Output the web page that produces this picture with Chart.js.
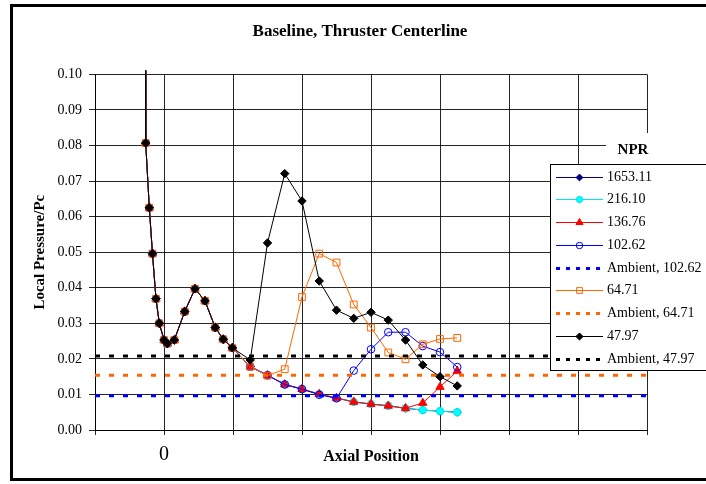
<!DOCTYPE html>
<html>
<head>
<meta charset="utf-8">
<script src="https://cdn.jsdelivr.net/npm/chart.js@4/dist/chart.umd.min.js"></script>
<style>
  html, body { margin: 0; padding: 0; background: #fff; }
  canvas { display: block; }
</style>
</head>
<body>
<canvas id="chart" width="706" height="484"></canvas>
<script>
// axial stations (one grid division = 1 unit, 0 = reference station)
const nearX = [-0.272, -0.265, -0.213, -0.167, -0.116, -0.068, 0.0, 0.048, 0.149, 0.300, 0.449, 0.594, 0.743, 0.859, 0.990]
const farX = [1.25, 1.5, 1.75, 2.0, 2.25, 2.5, 2.75, 3.0, 3.25, 3.5, 3.75, 4.0, 4.25]

// upstream part, the same for every NPR
const nearP = [0.1300, 0.0807, 0.0625, 0.0496, 0.0369, 0.0300, 0.0253, 0.0243, 0.0253, 0.0333, 0.0397, 0.0363, 0.0288, 0.0255, 0.0231]

// downstream part per NPR
const npr1653 = [0.0178, 0.0154, 0.0128, 0.0115, 0.0101, 0.0090, 0.0079, 0.0073, 0.0068, 0.0061, 0.0056, 0.0053, 0.0050]
const npr216 = [0.0178, 0.0154, 0.0128, 0.0115, 0.0101, 0.0090, 0.0079, 0.0073, 0.0068, 0.0061, 0.0056, 0.0053, 0.0050]
const npr137 = [0.0178, 0.0154, 0.0128, 0.0115, 0.0101, 0.0090, 0.0079, 0.0073, 0.0068, 0.0061, 0.0076, 0.0121, 0.0166]
const npr103 = [0.0178, 0.0154, 0.0128, 0.0115, 0.0099, 0.0089, 0.0167, 0.0227, 0.0275, 0.0275, 0.0236, 0.0219, 0.0177]
const npr65 = [0.0178, 0.0153, 0.0171, 0.0374, 0.0496, 0.0471, 0.0353, 0.0288, 0.0218, 0.0199, 0.0241, 0.0256, 0.0259]
const npr48 = [0.0197, 0.0526, 0.0721, 0.0644, 0.0419, 0.0337, 0.0314, 0.0331, 0.0309, 0.0253, 0.0183, 0.0150, 0.0124]

// ambient pressure levels
const ambientX = [-1, 7]
const ambient103 = 0.0096
const ambient65 = 0.0154
const ambient48 = 0.0208

const yTicks = [0, 0.01, 0.02, 0.03, 0.04, 0.05, 0.06, 0.07, 0.08, 0.09, 0.10]

Chart.defaults.font.family = '"Liberation Serif", "Times New Roman", serif'
Chart.defaults.color = '#000'

function curve(farVals) {
    const xs = nearX.concat(farX)
    const ys = nearP.concat(farVals)
    return xs.map((x, i) => ({ x: x, y: ys[i] }))
}

function flat(level) {
    return ambientX.map(x => ({ x: x, y: level }))
}

function series(label, data, color, style, radius, fill) {
    return {
        label: label,
        data: data,
        borderColor: color,
        borderWidth: 1,
        pointStyle: style,
        pointRadius: radius,
        pointBorderColor: color,
        pointBackgroundColor: fill,
        pointBorderWidth: 1,
        clip: 4
    }
}

function ambient(label, level, color) {
    return {
        label: label,
        data: flat(level),
        borderColor: color,
        borderWidth: 3,
        borderDash: [5, 9],
        pointRadius: 0,
        clip: 5
    }
}

const datasets = [
    series('1653.11', curve(npr1653), '#000080', 'rectRot', 4, '#000080'),
    series('216.10', curve(npr216), '#00E5EE', 'circle', 3.7, '#00FFFF'),
    series('136.76', curve(npr137), '#FF0000', 'triangle', 4.8, '#FF0000'),
    series('102.62', curve(npr103), '#0000FF', 'circle', 3.8, 'rgba(0,0,0,0)'),
    ambient('Ambient, 102.62', ambient103, '#0000FF'),
    series('64.71', curve(npr65), '#FF6600', 'rect', 4.8, 'rgba(0,0,0,0)'),
    ambient('Ambient, 64.71', ambient65, '#FF6600'),
    series('47.97', curve(npr48), '#000000', 'rectRot', 4.2, '#000000'),
    ambient('Ambient, 47.97', ambient48, '#000000')
]
// later series sit on top, as in the original
datasets.forEach((ds, i) => { ds.order = datasets.length - i })

const frame = {
    id: 'frame',
    beforeDraw(chart) {
        const ctx = chart.ctx
        ctx.save()
        ctx.fillStyle = '#fff'
        ctx.fillRect(0, 0, chart.width, chart.height)
        ctx.restore()
    },
    afterDraw(chart) {
        const ctx = chart.ctx
        ctx.save()
        // NPR caption
        ctx.fillStyle = '#fff'
        ctx.fillRect(606, 133, 110, 31)
        ctx.fillStyle = '#000'
        ctx.font = 'bold 15px "Liberation Serif", serif'
        ctx.textAlign = 'center'
        ctx.textBaseline = 'middle'
        ctx.fillText('NPR', 633, 150)

        // legend box
        ctx.fillStyle = '#fff'
        ctx.fillRect(550, 164, 170, 207)
        ctx.strokeStyle = '#000'
        ctx.lineWidth = 1
        ctx.strokeRect(550.5, 164.5, 170, 206)

        ctx.font = '14px "Liberation Serif", serif'
        ctx.textAlign = 'left'
        chart.data.datasets.forEach((ds, i) => {
            const y = Math.round(176.7 + 22.75 * i) + 0.5
            ctx.strokeStyle = ds.borderColor
            ctx.lineWidth = ds.borderWidth
            ctx.setLineDash(ds.borderDash ? [4, 6] : [])
            ctx.beginPath()
            ctx.moveTo(556, y)
            ctx.lineTo(603, y)
            ctx.stroke()
            ctx.setLineDash([])
            if (ds.pointRadius > 0) {
                ctx.fillStyle = ds.pointBackgroundColor
                ctx.strokeStyle = ds.pointBorderColor
                ctx.lineWidth = 1
                Chart.helpers.drawPoint(ctx, {
                    pointStyle: ds.pointStyle,
                    radius: ds.pointRadius * 0.85,
                    rotation: 0,
                    borderWidth: 1
                }, 579.5, y)
            }
            ctx.fillStyle = '#000'
            ctx.fillText(ds.label, 607, y)
        })

        // outer frame
        ctx.strokeStyle = '#000'
        ctx.lineWidth = 3
        ctx.strokeRect(11.5, 5.5, 710, 474)
        ctx.restore()
    }
}

new Chart(document.getElementById('chart'), {
    type: 'line',
    data: { datasets: datasets },
    options: {
        responsive: false,
        animation: false,
        layout: { padding: { left: 14, right: 0, top: 0, bottom: 14 } },
        plugins: {
            legend: { display: false },
            tooltip: { enabled: false },
            title: {
                display: true,
                text: 'Baseline, Thruster Centerline',
                font: { size: 17, weight: 'bold' },
                color: '#000',
                padding: { top: 21, bottom: 33 }
            }
        },
        elements: { line: { tension: 0 } },
        scales: {
            x: {
                type: 'linear',
                min: -1,
                max: 7,
                grid: { color: 'rgba(0,0,0,0.85)', tickLength: 5 },
                border: { color: '#000' },
                ticks: {
                    stepSize: 1,
                    font: { size: 20 },
                    padding: 8,
                    maxRotation: 0,
                    callback: v => (v === 0 ? '0' : '')
                },
                title: {
                    display: true,
                    text: 'Axial Position',
                    font: { size: 16, weight: 'bold' },
                    padding: { top: 0, bottom: 4 }
                },
                afterFit(scale) { scale.height = 40 }
            },
            y: {
                min: 0,
                max: 0.10,
                grid: { color: 'rgba(0,0,0,0.85)', tickLength: 6 },
                border: { color: '#000' },
                afterBuildTicks(scale) { scale.ticks = yTicks.map(v => ({ value: v })) },
                ticks: {
                    font: { size: 14 },
                    padding: 7,
                    callback: v => v.toFixed(2)
                },
                title: {
                    display: true,
                    text: 'Local Pressure/Pc',
                    font: { size: 15, weight: 'bold' },
                    padding: { top: 17, bottom: 0 }
                },
                afterFit(scale) { scale.width = 81 }
            },
            y2: {
                position: 'right',
                display: true,
                grid: { display: false, drawTicks: false },
                border: { display: false },
                ticks: { display: false },
                afterFit(scale) { scale.width = 59 }
            }
        }
    },
    plugins: [frame]
})
</script>
</body>
</html>
